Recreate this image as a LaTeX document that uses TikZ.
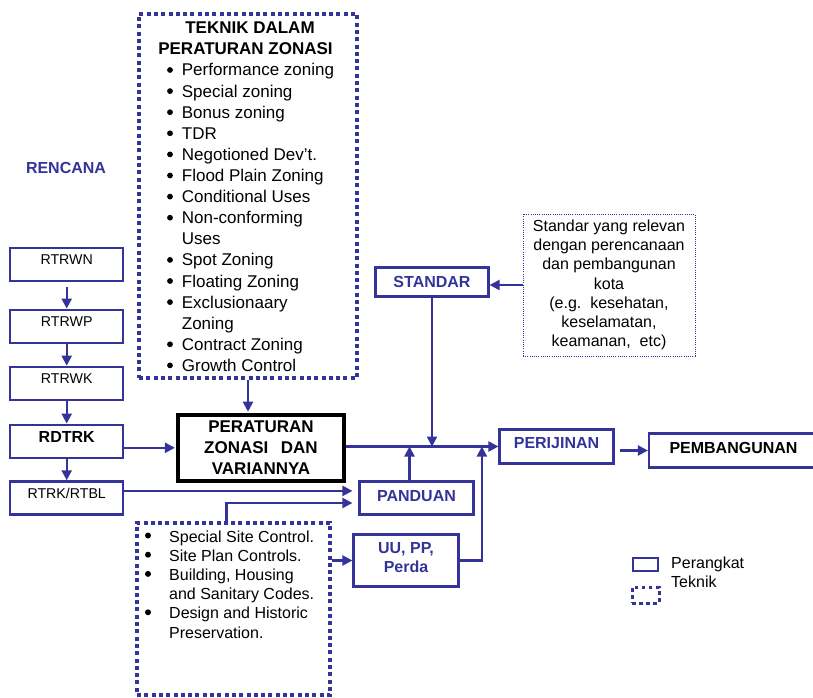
\documentclass[tikz,border=0pt]{standalone}
\usepackage{fontspec}
\setmainfont{Liberation Sans}
\usetikzlibrary{arrows.meta}
\definecolor{blu}{RGB}{51,51,153}
\begin{document}
\begin{tikzpicture}[x=1pt,y=-1pt,
  every node/.style={inner sep=0pt},
  box/.style={draw=blu, line width=2.2pt},
  dotbox/.style={draw=blu, line width=3.8pt, dash pattern=on 4pt off 3.3pt},
  thindot/.style={draw=blu, line width=1pt, dash pattern=on 1pt off 1.2pt},
  arr/.style={draw=blu, line width=2.2pt, -{Triangle[length=10pt,width=10pt]}},
  fA/.style={font=\fontsize{17}{21.1}\selectfont},
  fAb/.style={font=\fontsize{17}{21.3}\selectfont\bfseries},
  fB/.style={font=\fontsize{16}{19.2}\selectfont},
  fBb/.style={font=\fontsize{16}{18.4}\selectfont\bfseries},
  fC/.style={font=\fontsize{14.2}{17}\selectfont},
  rtr/.style={box, minimum width=113pt, minimum height=33pt, text depth=9pt},
  bluetxt/.style={text=blu}
]
\useasboundingbox (0,0) rectangle (813,698);
\clip (0,0) rectangle (813,698);

% ---------- top technique box ----------
\node[dotbox, minimum width=218pt, minimum height=364pt] (teknik) at (248,196) {};
\node[fAb, anchor=base] (tt1) at (250,33.5) {TEKNIK DALAM};
\node[fAb, anchor=base] (tt2) at (245.5,54.5) {PERATURAN ZONASI};
\foreach \t/\b [count=\i from 0] in {Performance zoning/1, Special zoning/1, Bonus zoning/1, TDR/1, Negotioned Dev’t./1, Flood Plain Zoning/1, Conditional Uses/1, Non-conforming/1, Uses/0, Spot Zoning/1, Floating Zoning/1, Exclusionaary/1, Zoning/0, Contract Zoning/1, Growth Control/1}{
  \node[fA, anchor=base west] (tl\i) at (181.7,{76+21.1*\i}) {\t};
  \ifnum\b=1 \fill (170,{70+21.1*\i}) circle[radius=2.9pt]; \fi
}

% ---------- plans column ----------
\node[fBb, bluetxt] (rencana) at (66,168) {RENCANA};
\node[rtr, fC] (rtrwn) at (66.7,264.5) {RTRWN};
\node[rtr, fC] (rtrwp) at (66.7,326.2) {RTRWP};
\node[rtr, fC] (rtrwk) at (66.7,383.3) {RTRWK};
\node[rtr, fBb, text depth=7.5pt] (rdtrk) at (66.7,441.2) {RDTRK};
\node[rtr, fC] (rtrk) at (66.7,497.9) {RTRK/RTBL};

% ---------- central box ----------
\node[draw=black, line width=4.2pt, minimum width=166pt, minimum height=66pt, fAb, align=center] (perat) at (261,447.8) {PERATURAN\\ZONASI\hspace{12.5pt}DAN\\VARIANNYA};

% ---------- right side ----------
\node[box, minimum width=113pt, minimum height=29pt, fBb, bluetxt] (standar) at (432,282) {STANDAR};
\node[thindot, minimum width=172pt, minimum height=142pt, fB, align=center] (desc) at (609,285) {Standar yang relevan\\dengan perencanaan\\dan pembangunan\\kota\\(e.g.\ \ kesehatan,\\keselamatan,\\keamanan,\ \ etc)};
\node[box, minimum width=114pt, minimum height=34pt, fBb, bluetxt, text depth=7pt] (perij) at (556.5,446.5) {PERIJINAN};
\node[box, minimum width=169pt, minimum height=34pt, fBb, text depth=5pt] (pemb) at (733.5,450.5) {PEMBANGUNAN};
\node[box, minimum width=114pt, minimum height=33pt, fBb, bluetxt, text depth=4pt] (panduan) at (416.5,498) {PANDUAN};
\node[box, minimum width=105pt, minimum height=52pt, fBb, bluetxt, align=center, text depth=6pt] (uu) at (406,560.5) {UU, PP,\\Perda};

% ---------- bottom technique box ----------
\node[dotbox, minimum width=193pt, minimum height=172pt] (tech2) at (233.5,609) {};
\node[fB, anchor=base west] (b1) at (169,542) {Special Site Control.};
\node[fB, anchor=base west] (b2) at (169,561.2) {Site Plan Controls.};
\node[fB, anchor=base west] (b3) at (169,580.4) {Building, Housing};
\node[fB, anchor=base west] (b4) at (169,599.6) {and Sanitary Codes.};
\node[fB, anchor=base west] (b5) at (169,618.8) {Design and Historic};
\node[fB, anchor=base west] (b6) at (169,638) {Preservation.};
\foreach \yy in {542,561.2,580.4,618.8}{\fill (148,\yy-6.5) circle[radius=3pt];}

% ---------- legend ----------
\node[draw=blu, line width=1.6pt, minimum width=25pt, minimum height=13pt] (leg1) at (645.5,564.5) {};
\node[draw=blu, line width=3pt, dash pattern=on 3.5pt off 3.6pt, minimum width=27pt, minimum height=16pt] (leg2) at (645.5,595) {};
\node[fB, anchor=base west] (legt1) at (671,568) {Perangkat};
\node[fB, anchor=base west] (legt2) at (671,587.5) {Teknik};

% ---------- connectors ----------
\draw[arr, shorten <=5pt] (rtrwn.south) -- (rtrwp.north);
\draw[arr] (rtrwp.south) -- (rtrwk.north);
\draw[arr] (rtrwk.south) -- (rdtrk.north);
\draw[arr] (rdtrk.south) -- (rtrk.north);
\draw[arr, shorten >=1pt] (rdtrk.east |- perat.west) -- (perat.west);
\draw[arr, shorten >=1pt] (teknik.south) -- (teknik.south |- perat.north);
\draw[arr] (perat.east |- perij.west) -- (perij.west);
\draw[arr] (standar.south) -- (standar.south |- perij.west);
\draw[arr] (desc.west) -- (desc.west -| standar.east);
\draw[arr] ([xshift=-7pt]panduan.north) -- ([xshift=-7pt]panduan.north |- perij.west);
\draw[arr] (uu.east) -| ([xshift=-16.5pt]perij.west);
\draw[arr, shorten <=5pt] (perij.east |- pemb.west) -- (pemb.west);
\draw[arr, shorten >=6pt] ([yshift=7pt]rtrk.east) -- ([yshift=7pt]rtrk.east -| panduan.west);
\draw[arr, shorten >=6pt] ([xshift=-7pt]tech2.north) |- ([yshift=-5pt]panduan.west);
\draw[arr] (tech2.east |- uu.west) -- (uu.west);
\end{tikzpicture}
\end{document}
